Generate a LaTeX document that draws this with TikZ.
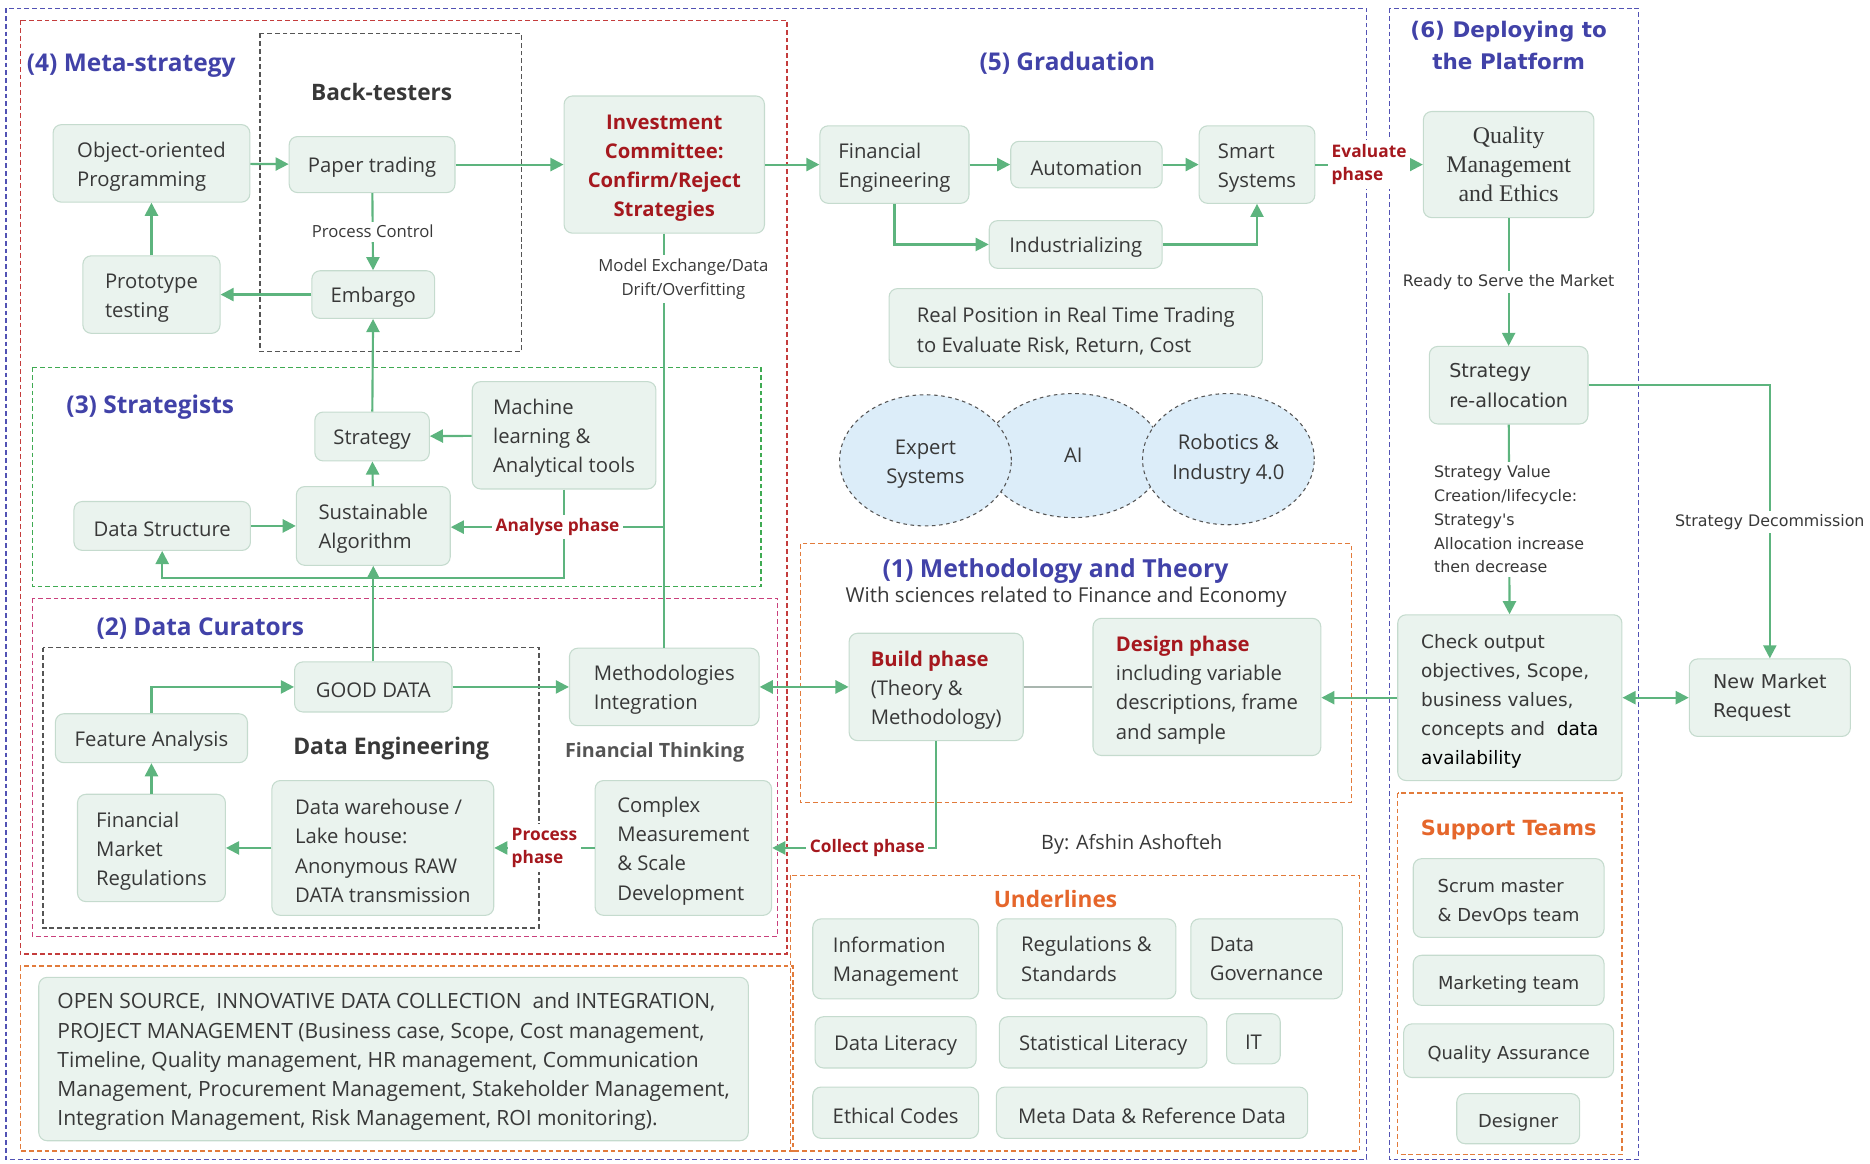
\documentclass[tikz,border=0pt]{standalone}
\usepackage{fontspec}
\setmainfont{Open Sans}
\newfontfamily\verdfam{DejaVu Sans}
\newfontfamily\serfam{Liberation Serif}
\usetikzlibrary{arrows.meta,shapes.geometric}
\newcommand{\hdstrut}{\rule{0pt}{18pt}}
\definecolor{boxfill}{HTML}{EAF3EE}
\definecolor{boxline}{HTML}{C5DBCE}
\definecolor{flow}{HTML}{5DB47E}
\definecolor{ttl}{HTML}{4142A8}
\definecolor{phred}{HTML}{A5181E}
\definecolor{orng}{HTML}{E5662B}
\definecolor{ink}{HTML}{383838}
\definecolor{dblue}{HTML}{5252B4}
\definecolor{dred}{HTML}{C43C3C}
\definecolor{dgreen}{HTML}{3FAA52}
\definecolor{dpink}{HTML}{C9407C}
\definecolor{dorng}{HTML}{E27B3B}
\definecolor{dgray}{HTML}{555555}
\definecolor{ellfill}{HTML}{DCEDF9}
\tikzstyle{box}=[draw=boxline, fill=boxfill, rounded corners=7pt, line width=0.9pt, text=ink, inner sep=3pt, font=\fontsize{17}{24.5}\selectfont, execute at begin node={\hdstrut}]
\tikzstyle{vbox}=[box, font=\verdfam\fontsize{15}{24.5}\selectfont]
\tikzstyle{link}=[flow, line width=1.8pt, -{Triangle[length=11pt,width=11pt]}]
\tikzstyle{link2}=[flow, line width=1.8pt, {Triangle[length=11pt,width=11pt]}-{Triangle[length=11pt,width=11pt]}]
\tikzstyle{flowline}=[flow, line width=1.8pt]
\tikzstyle{zone}=[line width=1.1pt, dash pattern=on 4pt off 2.5pt]
\tikzstyle{sect}=[text=ttl, font=\bfseries\fontsize{20.5}{24}\selectfont]
\tikzstyle{lbl}=[fill=white, text=ink, inner sep=3pt, font=\fontsize{14}{20}\selectfont, align=center]
\tikzstyle{vlbl}=[fill=white, text=ink, inner sep=3pt, font=\verdfam\fontsize{13.3}{20}\selectfont, align=center]
\tikzstyle{phase}=[fill=white, text=phred, inner sep=3pt, font=\bfseries\fontsize{14.5}{20}\selectfont, align=left]
\tikzstyle{bubble}=[ellipse, draw=dgray, dashed, fill=ellfill, line width=0.9pt, text=ink, font=\fontsize{17}{24.5}\selectfont, align=center]
\begin{document}
\begin{tikzpicture}[x=1pt,y=-1pt]
\useasboundingbox (0,0) rectangle (1568,976);
% frames
\draw[zone, dblue] (5,7) rectangle (1146,972);
\draw[zone, dblue] (1165,7) rectangle (1374,972);
\draw[zone, dred] (17,17) rectangle (660,800);
\draw[zone, dgray] (218,28) rectangle (437,295);
\draw[zone, dgreen] (27,308) rectangle (638,492);
\draw[zone, dpink] (27,502) rectangle (652,785);
\draw[zone, dgray] (36,543) rectangle (452,778);
\draw[zone, dorng] (17,810) rectangle (665,965);
\draw[zone, dorng] (671,456) rectangle (1133,673);
\draw[zone, dorng] (663,734) rectangle (1140,965);
\draw[zone, dorng] (1172,665) rectangle (1360,968);

% (4) meta-strategy
\node[sect] (t4) at (110,55) {(4) Meta-strategy};
\node[text=ink, font=\bfseries\fontsize{19}{23}\selectfont] (tbt) at (320,77) {Back-testers};
\node[box, minimum width=165, minimum height=65, align=left] (oop) at (127,137) {\hdstrut Object-oriented\\Programming};
\node[box, minimum width=139, minimum height=47] (paper) at (312,138) {Paper trading};
\node[box, minimum width=115, minimum height=65, align=left] (proto) at (127,247) {\hdstrut Prototype\\testing};
\node[box, minimum width=103, minimum height=40] (embargo) at (313,247) {Embargo};
\node[box, minimum width=168, minimum height=115, align=center, text=phred, font=\bfseries\fontsize{17}{24.5}\selectfont] (ic) at (557,138) {\hdstrut Investment\\Committee:\\Confirm/Reject\\Strategies};

% (5) graduation
\node[sect] (t5) at (895,53) {(5) Graduation};
\node[box, minimum width=125, minimum height=65, align=left] (fe) at (750,138) {\hdstrut Financial\\Engineering};
\node[box, minimum width=127, minimum height=39] (autom) at (911,138) {Automation};
\node[box, minimum width=97, minimum height=65, align=left] (smart) at (1054,138) {\hdstrut Smart\\Systems};
\node[box, minimum width=145, minimum height=40] (indus) at (902,205) {Industrializing};
\node[box, minimum width=313, minimum height=66, align=left] (realpos) at (902,275) {\hdstrut Real Position in Real Time Trading\\to Evaluate Risk, Return, Cost};
\node[bubble, minimum width=150, minimum height=104] (ai) at (900,382) {AI};
\node[bubble, minimum width=144, minimum height=110] (expert) at (776,386) {\hdstrut Expert\\Systems};
\node[bubble, minimum width=144, minimum height=110] (robot) at (1030,385) {Robotics \&\\Industry 4.0};

% (6) deploying
\node[text=ttl, font=\verdfam\bfseries\fontsize{18}{27}\selectfont, align=center] (t6) at (1265,38) {(6) Deploying to\\the Platform};
\node[box, minimum width=143, minimum height=89, align=center, font=\serfam\fontsize{20}{24.5}\selectfont, execute at begin node={}] (qme) at (1265,138) {Quality\\Management\\and Ethics};
\node[vbox, minimum width=133, minimum height=65, align=left, font=\verdfam\fontsize{16}{25}\selectfont] (realloc) at (1265,323) {Strategy\\re-allocation};
\node[vbox, minimum width=188, minimum height=139, align=left, font=\verdfam\fontsize{15.5}{24.5}\selectfont] (check) at (1266,585) {\hdstrut Check output\\objectives, Scope,\\business values,\\concepts and ~\textcolor{black}{data}\\\textcolor{black}{availability}};
\node[vbox, minimum width=135, minimum height=65, align=left, font=\verdfam\fontsize{16}{25}\selectfont] (nmr) at (1484,585) {New Market\\Request};
\node[text=orng, font=\verdfam\bfseries\fontsize{17.5}{22}\selectfont] (tsup) at (1265,696) {Support Teams};
\node[vbox, minimum width=160, minimum height=66, align=left] (scrum) at (1265,753) {\hdstrut Scrum master\\\& DevOps team};
\node[vbox, minimum width=160, minimum height=42] (mkt) at (1265,822) {Marketing team};
\node[vbox, minimum width=176, minimum height=45] (qa) at (1265,881) {Quality Assurance};
\node[vbox, minimum width=103, minimum height=42] (dsgn) at (1273,938) {Designer};

% (3) strategists
\node[sect] (t3) at (126,341) {(3) Strategists};
\node[box, minimum width=96, minimum height=41] (strat) at (312,366) {Strategy};
\node[box, minimum width=154, minimum height=90, align=left] (ml) at (473,365) {\hdstrut Machine\\learning \&\\Analytical tools};
\node[box, minimum width=148, minimum height=41] (dstruct) at (136,441) {Data Structure};
\node[box, minimum width=129, minimum height=66, align=left] (salg) at (313,441) {\hdstrut Sustainable\\Algorithm};

% (2) data curators
\node[sect] (t2) at (168,527) {(2) Data Curators};
\node[box, minimum width=132, minimum height=42] (good) at (313,576) {GOOD DATA};
\node[box, minimum width=159, minimum height=65, align=left] (meth) at (557,576) {\hdstrut Methodologies\\Integration};
\node[box, minimum width=161, minimum height=41] (feat) at (127,619) {Feature Analysis};
\node[text=ink, font=\bfseries\fontsize{19.2}{22}\selectfont] (tde) at (328,628) {Data Engineering};
\node[text=dgray, font=\bfseries\fontsize{16.5}{22}\selectfont] (tft) at (549,631) {Financial Thinking};
\node[box, minimum width=124, minimum height=90, align=left] (fmr) at (127,711) {\hdstrut Financial\\Market\\Regulations};
\node[box, minimum width=186, minimum height=113, align=left] (dwh) at (321,711) {\hdstrut Data warehouse /\\Lake house:\\Anonymous RAW\\DATA transmission};
\node[box, minimum width=148, minimum height=113, align=left] (cms) at (573,711) {\hdstrut Complex\\Measurement\\\& Scale\\Development};

% (1) methodology
\node[sect, font=\bfseries\fontsize{20.8}{24}\selectfont] (t1) at (885,479) {(1) Methodology and Theory};
\node[text=ink, font=\fontsize{17.2}{22}\selectfont] (t1sub) at (894,501) {With sciences related to Finance and Economy};
\node[box, minimum width=146, minimum height=90, align=left] (build) at (785,576) {\hdstrut\textcolor{phred}{\bfseries Build phase}\\(Theory \&\\Methodology)};
\node[box, minimum width=191, minimum height=115, align=left] (design) at (1012,576) {\hdstrut\textcolor{phred}{\bfseries Design phase}\\including variable\\descriptions, frame\\and sample};
\node[text=ink, font=\fontsize{16.6}{20}\selectfont] (by) at (949,708) {By: Afshin Ashofteh};

% underlines
\node[text=orng, font=\bfseries\fontsize{19}{23}\selectfont] (tund) at (885,754) {Underlines};
\node[box, minimum width=139, minimum height=67, align=left] (infom) at (751,804) {\hdstrut Information\\Management};
\node[box, minimum width=150, minimum height=67, align=left] (regs) at (911,804) {Regulations \&\\Standards};
\node[box, minimum width=127, minimum height=67, align=left] (dgov) at (1062,804) {Data\\Governance};
\node[box, minimum width=135, minimum height=43] (dlit) at (751,874) {Data Literacy};
\node[box, minimum width=174, minimum height=43] (slit) at (925,874) {Statistical Literacy};
\node[box, minimum width=45, minimum height=42] (it) at (1051,871) {IT};
\node[box, minimum width=139, minimum height=43] (ethic) at (751,933) {Ethical Codes};
\node[box, minimum width=261, minimum height=43] (meta) at (966,933) {Meta Data \& Reference Data};

% open source
\node[box, minimum width=595, minimum height=137, align=left, font=\fontsize{17.6}{24.5}\selectfont] (open) at (330,888) {\hdstrut OPEN SOURCE, ~INNOVATIVE DATA COLLECTION ~and INTEGRATION,\\PROJECT MANAGEMENT (Business case, Scope, Cost management,\\Timeline, Quality management, HR management, Communication\\Management, Procurement Management, Stakeholder Management,\\Integration Management, Risk Management, ROI monitoring).};

% connectors
\coordinate (mlturn) at (473,485);
\coordinate (ajoin) at (557,442);
\draw[link] (oop) -- (paper);
\draw[link] (paper) -- (ic);
\draw[link] (ic) -- (fe);
\draw[link] (fe) -- (autom);
\draw[link] (autom) -- (smart);
\draw[link] (fe.south) |- (indus.west);
\draw[link] (indus.east) -| (smart.south);
\draw[link] (smart) -- node[phase]{Evaluate\\phase} (qme);
\draw[link] (paper) -- node[lbl]{Process Control} (embargo);
\draw[link] (embargo) -- (proto);
\draw[link] (proto) -- (oop);
\draw[link] (strat) -- (embargo);
\draw[link] (ml) -- (strat);
\draw[link] (salg) -- (strat);
\draw[link] (dstruct) -- (salg);
\draw[link] (ml.south) -- (mlturn) -| (dstruct.south);
\draw[link] (good) -- (salg);
\draw[flowline] (ic) -- node[lbl, pos=0.11, xshift=16] {Model Exchange/Data\\Drift/Overfitting} (meth);
\draw[link] (ajoin) -- node[phase]{Analyse phase} (ajoin -| salg.east);
\draw[link] (feat.north) |- (good.west);
\draw[link] (good) -- (meth);
\draw[link] (fmr) -- (feat);
\draw[link] (dwh) -- (fmr);
\draw[link] (cms) -- node[phase]{Process\\phase} (dwh);
\draw[link] (build.south) |- node[phase, pos=0.71]{Collect phase} (cms.east);
\draw[link2] (meth) -- (build);
\draw[draw=boxline!60!gray, line width=1pt] (build) -- (design);
\draw[link] (check.west) -- (check.west -| design.east);
\draw[link2] (check) -- (nmr);
\draw[link] (realloc.east) -| node[vlbl, pos=0.75]{Strategy Decommission} (nmr.north);
\draw[link] (qme) -- node[vlbl]{Ready to Serve the Market} (realloc);
\draw[link] (realloc) -- node[vlbl, align=left]{Strategy Value\\Creation/lifecycle:\\Strategy's\\Allocation increase\\then decrease} (check);
\end{tikzpicture}
\end{document}
